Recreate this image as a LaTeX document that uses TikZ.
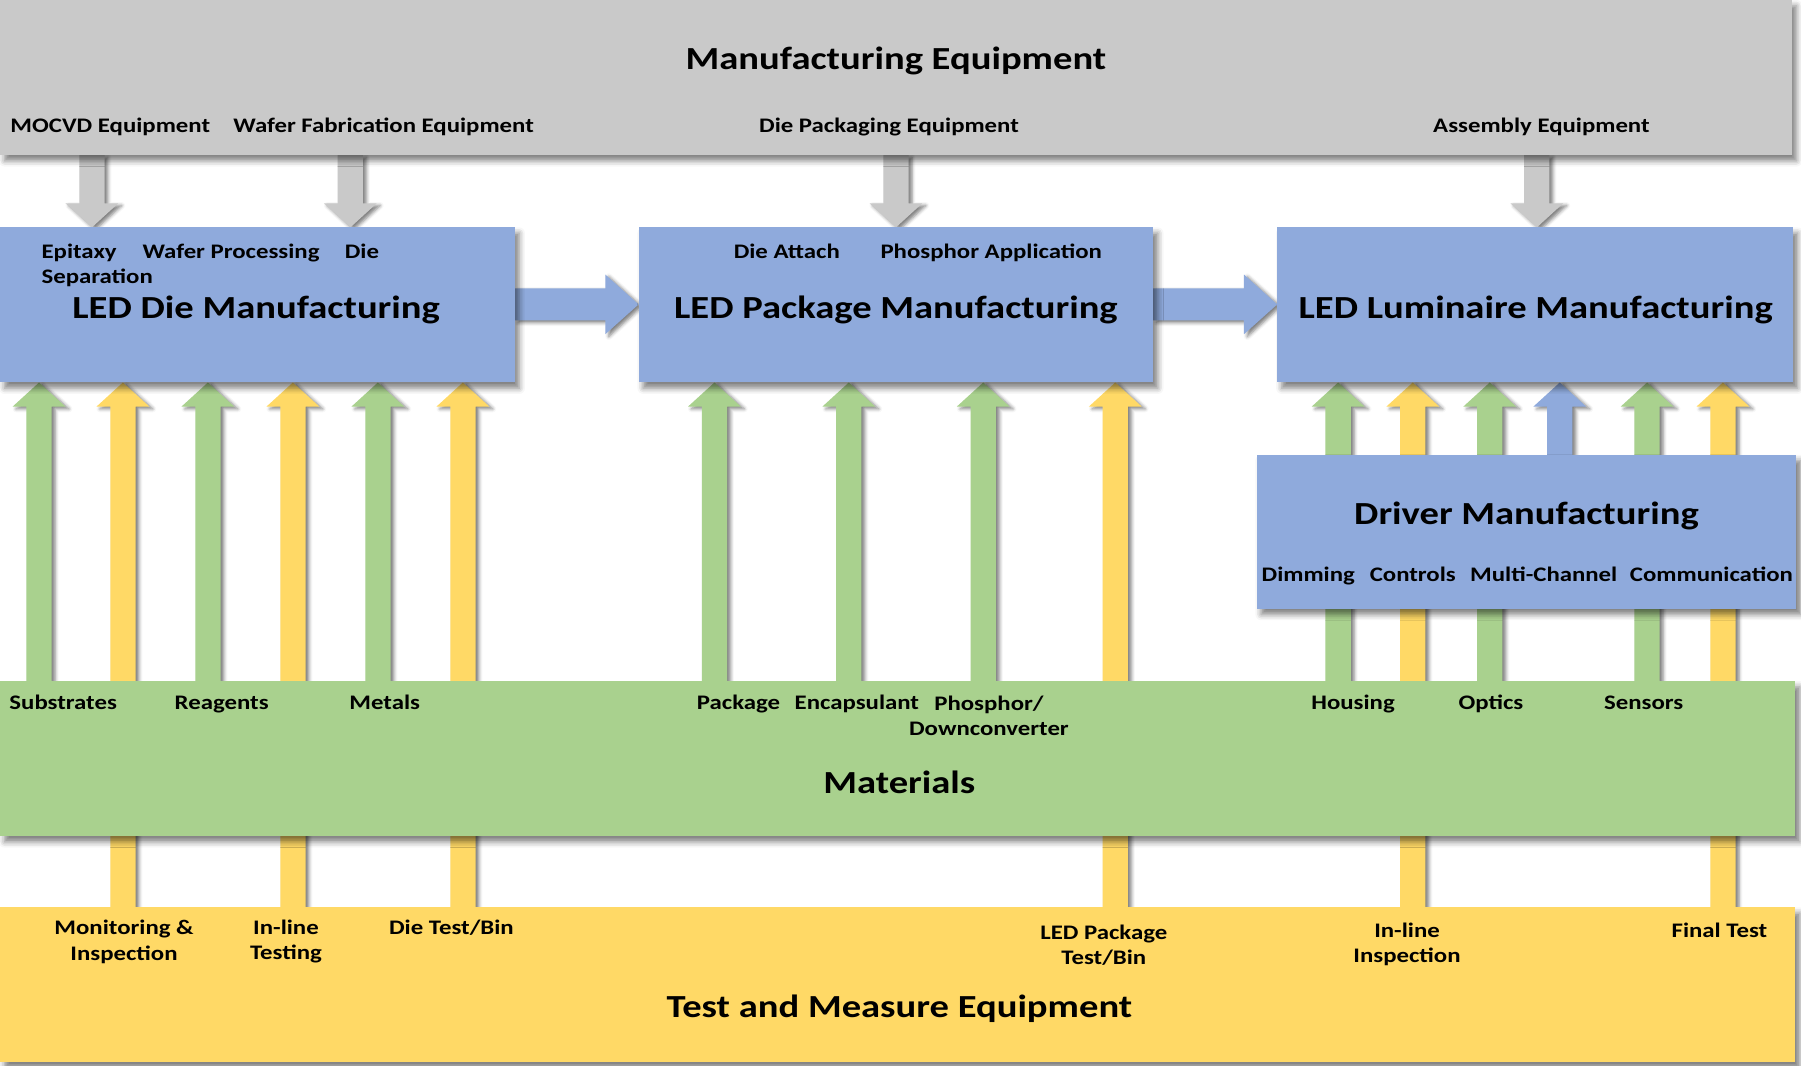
\documentclass[tikz,border=0pt]{standalone}
\usepackage{fontspec}
\setmainfont{Carlito}[FakeStretch=1.2]
\usetikzlibrary{calc,shadows.blur}
\definecolor{mgray}{HTML}{C9C9C9}
\definecolor{mblue}{HTML}{8FAADC}
\definecolor{mgreen}{HTML}{A9D18E}
\definecolor{myellow}{HTML}{FFD966}
\pgfdeclarelayer{arrowlayer}
\pgfsetlayers{arrowlayer,main}
\tikzset{
 box/.style={anchor=north west, inner sep=0, outer sep=0,
   blur shadow={shadow xshift=4pt, shadow yshift=-5pt, shadow blur radius=5pt, shadow opacity=50}},
 arr/.style={blur shadow={shadow xshift=3pt, shadow yshift=-2pt, shadow blur radius=3pt, shadow opacity=50}},
 big/.style={font=\fontsize{28}{32}\selectfont\bfseries, inner sep=0},
 ttl/.style={font=\fontsize{28}{34}\selectfont\bfseries, inner sep=0},
 lab/.style={font=\fontsize{18}{22}\selectfont\bfseries, inner sep=0, align=center},
 labb/.style={lab, anchor=base},
}
\newcommand\UpArr[4]{%
  \path[arr, fill=#4] let \p1=(#2), \p2=(#3) in
   (#1-11,\y1) -- (#1-11,\y2-21) -- (#1-23,\y2-21) -- (#1,\y2) --
   (#1+23,\y2-21) -- (#1+11,\y2-21) -- (#1+11,\y1) -- cycle;}
\newcommand\DownArr[3]{%
  \path[arr, fill=mgray] let \p1=(#2), \p2=(#3) in
   (#1-11,\y1) -- (#1-11,\y2+21) -- (#1-23,\y2+21) -- (#1,\y2) --
   (#1+23,\y2+21) -- (#1+11,\y2+21) -- (#1+11,\y1) -- cycle;}
\newcommand\RightArr[3]{%
  \path[arr, fill=mblue] let \p1=(#2), \p2=(#3) in
   (\x1,#1+14) -- (\x2-29,#1+14) -- (\x2-29,#1+26) -- (\x2,#1) --
   (\x2-29,#1-26) -- (\x2-29,#1-14) -- (\x1,#1-14) -- cycle;}
\begin{document}
\begin{tikzpicture}[x=1pt,y=1pt]
\useasboundingbox (0,0) rectangle (1568,928);
% boxes
\node[box, fill=mgray, minimum width=1560pt, minimum height=135pt] (equip) at (0,928) {};
\node[box, fill=mblue, minimum width=448pt, minimum height=135pt] (die) at (0,730) {};
\node[box, fill=mblue, minimum width=448pt, minimum height=135pt] (pkg) at (556,730) {};
\node[box, fill=mblue, minimum width=449pt, minimum height=135pt] (lum) at (1112,730) {};
\node[box, fill=mblue, minimum width=470pt, minimum height=134pt] (drv) at (1094,532) {};
\node[box, fill=mgreen, minimum width=1563pt, minimum height=135pt] (mat) at (0,335) {};
\node[box, fill=myellow, minimum width=1563pt, minimum height=135pt] (test) at (0,138) {};
% texts: equipment
\node[ttl] (t-equip) at (780,875) {Manufacturing Equipment};
\node[labb] (l-mocvd) at (96,813) {MOCVD Equipment};
\node[labb] (l-wafer) at (334,813) {Wafer Fabrication Equipment};
\node[labb] (l-diepack) at (774,813) {Die Packaging Equipment};
\node[labb] (l-assem) at (1342,813) {Assembly Equipment};
% die box
\node[lab, anchor=base west] (l-epi) at (36,703) {Epitaxy};
\node[lab, anchor=base west] (l-wp) at (124,703) {Wafer Processing};
\node[lab, anchor=base west] (l-die) at (300,703) {Die};
\node[lab, anchor=base west] (l-sep) at (36,681) {Separation};
\node[big] (t-die) at (223,658) {LED Die Manufacturing};
% package box
\node[labb] (l-da) at (685,703) {Die Attach};
\node[labb] (l-pa) at (863,703) {Phosphor Application};
\node[big] (t-pkg) at (780,658) {LED Package Manufacturing};
% luminaire
\node[big] (t-lum) at (1337,658) {LED Luminaire Manufacturing};
% driver
\node[big] (t-drv) at (1329,479) {Driver Manufacturing};
\node[labb] (l-dim) at (1139,422) {Dimming};
\node[labb] (l-ctl) at (1230,422) {Controls};
\node[labb] (l-mc) at (1344,422) {Multi-Channel};
\node[labb] (l-com) at (1490,422) {Communication};
% materials
\node[big] (t-mat) at (783,247) {Materials};
\node[labb] (l-sub) at (55,310) {Substrates};
\node[labb] (l-rea) at (193,310) {Reagents};
\node[labb] (l-met) at (335,310) {Metals};
\node[labb] (l-pac) at (643,310) {Package};
\node[labb] (l-enc) at (746,310) {Encapsulant};
\node[lab] (l-pho) at (861,305) {Phosphor/\\Downconverter};
\node[labb] (l-hou) at (1178,310) {Housing};
\node[labb] (l-opt) at (1298,310) {Optics};
\node[labb] (l-sen) at (1431,310) {Sensors};
% test
\node[big] (t-test) at (783,50) {Test and Measure Equipment};
\node[lab] (l-mon) at (108,108) {Monitoring \&\\Inspection};
\node[lab] (l-ilt) at (249,108) {In-line\\Testing};
\node[labb] (l-dtb) at (393,114) {Die Test/Bin};
\node[lab] (l-ptb) at (961,105) {LED Package\\Test/Bin};
\node[lab] (l-ili) at (1225,106) {In-line\\Inspection};
\node[labb] (l-fin) at (1497,112) {Final Test};
% arrows
\begin{pgfonlayer}{arrowlayer}
\DownArr{80}{equip.south}{die.north}
\DownArr{305}{equip.south}{die.north}
\DownArr{780}{equip.south}{pkg.north}
\DownArr{1338}{equip.south}{lum.north}
\RightArr{663}{die.east}{pkg.west}
\RightArr{663}{pkg.east}{lum.west}
\UpArr{34}{mat.north}{die.south}{mgreen}
\UpArr{107}{test.north}{die.south}{myellow}
\UpArr{181}{mat.north}{die.south}{mgreen}
\UpArr{255}{test.north}{die.south}{myellow}
\UpArr{329}{mat.north}{die.south}{mgreen}
\UpArr{403}{test.north}{die.south}{myellow}
\UpArr{622}{mat.north}{pkg.south}{mgreen}
\UpArr{739}{mat.north}{pkg.south}{mgreen}
\UpArr{856}{mat.north}{pkg.south}{mgreen}
\UpArr{971}{test.north}{pkg.south}{myellow}
\UpArr{1165}{mat.north}{lum.south}{mgreen}
\UpArr{1230}{test.north}{lum.south}{myellow}
\UpArr{1297}{mat.north}{lum.south}{mgreen}
\UpArr{1358}{drv.north}{lum.south}{mblue}
\UpArr{1434}{mat.north}{lum.south}{mgreen}
\UpArr{1500}{test.north}{lum.south}{myellow}
\end{pgfonlayer}
\end{tikzpicture}
\end{document}
